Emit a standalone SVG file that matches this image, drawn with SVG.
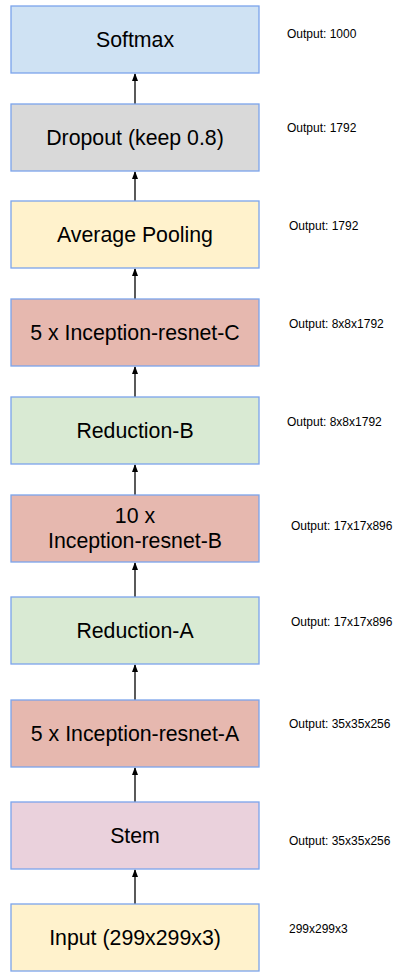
<svg xmlns="http://www.w3.org/2000/svg" width="415" height="979" viewBox="0 0 415 979">
<style>
.b{stroke:#7ba4ec;stroke-width:1.3}
.t{font-family:"Liberation Sans",Arial,sans-serif;font-size:21.3px;fill:#000;text-anchor:middle}
.o{font-family:"Liberation Sans",Arial,sans-serif;font-size:12px;fill:#000}
.c{stroke:#000;stroke-width:1.3;fill:none;marker-end:url(#a)}
</style>
<defs>
<marker id="a" markerWidth="8" markerHeight="8" refX="7" refY="3" orient="auto" markerUnits="userSpaceOnUse" viewBox="0 0 8 6">
<path d="M0,0L8,3L0,6z" fill="#000"/>
</marker>
</defs>
<rect width="415" height="979" fill="#fff"/>
<g id="connectors">
<line class="c" x1="135" y1="104" x2="135" y2="74"/>
<line class="c" x1="135" y1="201" x2="135" y2="172"/>
<line class="c" x1="135" y1="299" x2="135" y2="269"/>
<line class="c" x1="135" y1="397" x2="135" y2="367"/>
<line class="c" x1="135" y1="495" x2="135" y2="465"/>
<line class="c" x1="135" y1="597" x2="135" y2="563"/>
<line class="c" x1="135" y1="700" x2="135" y2="665"/>
<line class="c" x1="135" y1="802" x2="135" y2="768"/>
<line class="c" x1="135" y1="904" x2="135" y2="870"/>
</g>
<g id="softmax"><rect class="b" x="11" y="6" width="248" height="67" fill="#cfe2f3"/><text class="t" x="135" y="47">Softmax</text><text class="o" x="287" y="38">Output: 1000</text></g>
<g id="dropout"><rect class="b" x="11" y="104" width="248" height="67" fill="#d9d9d9"/><text class="t" x="135" y="145">Dropout (keep 0.8)</text><text class="o" x="287" y="132">Output: 1792</text></g>
<g id="avgpool"><rect class="b" x="11" y="201" width="248" height="67" fill="#fff2cc"/><text class="t" x="135" y="242">Average Pooling</text><text class="o" x="289" y="230">Output: 1792</text></g>
<g id="incC"><rect class="b" x="11" y="299" width="248" height="67" fill="#e6b8af"/><text class="t" x="135" y="340">5 x Inception-resnet-C</text><text class="o" x="289" y="328">Output: 8x8x1792</text></g>
<g id="redB"><rect class="b" x="11" y="397" width="248" height="67" fill="#d9ead3" stroke="#a4c2f4"/><text class="t" x="135" y="438">Reduction-B</text><text class="o" x="287" y="426">Output: 8x8x1792</text></g>
<g id="incB"><rect class="b" x="11" y="495" width="248" height="67" fill="#e6b8af"/><text class="t" x="135" y="523">10 x</text><text class="t" x="135" y="548">Inception-resnet-B</text><text class="o" x="291" y="530">Output: 17x17x896</text></g>
<g id="redA"><rect class="b" x="11" y="597" width="248" height="67" fill="#d9ead3"/><text class="t" x="135" y="638">Reduction-A</text><text class="o" x="291" y="626">Output: 17x17x896</text></g>
<g id="incA"><rect class="b" x="11" y="700" width="248" height="67" fill="#e6b8af"/><text class="t" x="135" y="741">5 x Inception-resnet-A</text><text class="o" x="289" y="728">Output: 35x35x256</text></g>
<g id="stem"><rect class="b" x="11" y="802" width="248" height="67" fill="#ead1dc"/><text class="t" x="135" y="843">Stem</text><text class="o" x="289" y="845">Output: 35x35x256</text></g>
<g id="input"><rect class="b" x="11" y="904" width="248" height="67" fill="#fff2cc"/><text class="t" x="135" y="945">Input (299x299x3)</text><text class="o" x="289" y="933">299x299x3</text></g>
</svg>
